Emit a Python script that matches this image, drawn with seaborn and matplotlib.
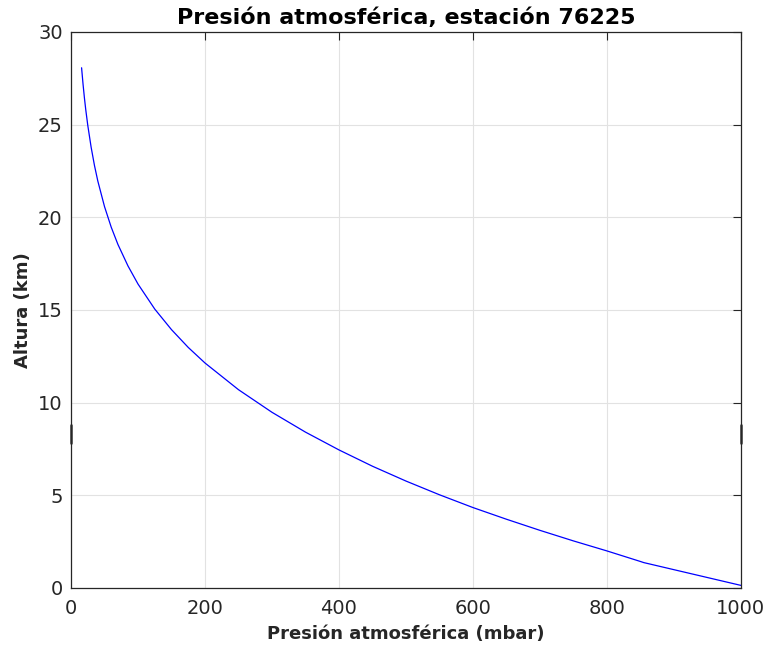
import seaborn as sns
import pandas as pd
import matplotlib.pyplot as plt

# Sondeo estacion 76225: presion (mbar) y altura (km)
presion = [1000, 855, 850, 800, 750, 700, 650, 600, 550, 500, 450, 400, 350,
           300, 250, 200, 175, 150, 125, 100, 85, 70, 60, 50, 40, 35, 30, 25,
           22, 20, 18, 16, 15.8]
altura = [0.14, 1.37, 1.43, 2.00, 2.54, 3.11, 3.71, 4.34, 5.03, 5.77, 6.57,
          7.45, 8.41, 9.48, 10.70, 12.14, 12.98, 13.94, 15.05, 16.40, 17.38,
          18.54, 19.47, 20.58, 21.96, 22.80, 23.79, 24.97, 25.81, 26.45,
          27.17, 27.98, 28.07]

df = pd.DataFrame({'Presion': presion, 'Altura': altura})

sns.set_style("whitegrid", {
    'axes.edgecolor': '#262626',
    'grid.color': '#e2e2e2',
    'xtick.direction': 'in',
    'ytick.direction': 'in',
})
plt.rcParams['font.family'] = ['DejaVu Sans']

fig = plt.figure(figsize=(7.71, 6.49), dpi=100)
ax = fig.add_axes([0.0921, 0.094, 0.8689, 0.8567])

sns.lineplot(ax=ax, data=df, x='Presion', y='Altura', color='blue',
             linewidth=0.9, estimator=None, sort=False)

ax.set_xlim(0, 1000)
ax.set_ylim(0, 30)
ax.set_xticks([0, 200, 400, 600, 800, 1000])
ax.set_yticks([0, 5, 10, 15, 20, 25, 30])
ax.tick_params(axis='both', which='both', direction='in', length=6,
               width=0.8, color='#262626', labelsize=14,
               labelcolor='#262626', top=True, right=True)
ax.tick_params(axis='x', pad=8)
ax.tick_params(axis='y', pad=6)
for s in ax.spines.values():
    s.set_linewidth(0.9)
    s.set_color('#262626')

# pequeñas marcas en los bordes laterales
ax.plot([0, 0], [7.8, 8.8], color='#555555', lw=2, clip_on=False)
ax.plot([1000, 1000], [7.8, 8.8], color='#555555', lw=2, clip_on=False)

ax.set_title('Presión atmosférica, estación 76225', fontsize=16,
             fontweight='bold', color='black', pad=6)
ax.set_xlabel('Presión atmosférica (mbar)', fontsize=13, fontweight='bold',
              color='#262626', labelpad=5)
ax.set_ylabel('Altura (km)', fontsize=13, fontweight='bold',
              color='#262626', labelpad=4)

fig.savefig('out.png', dpi=100)
